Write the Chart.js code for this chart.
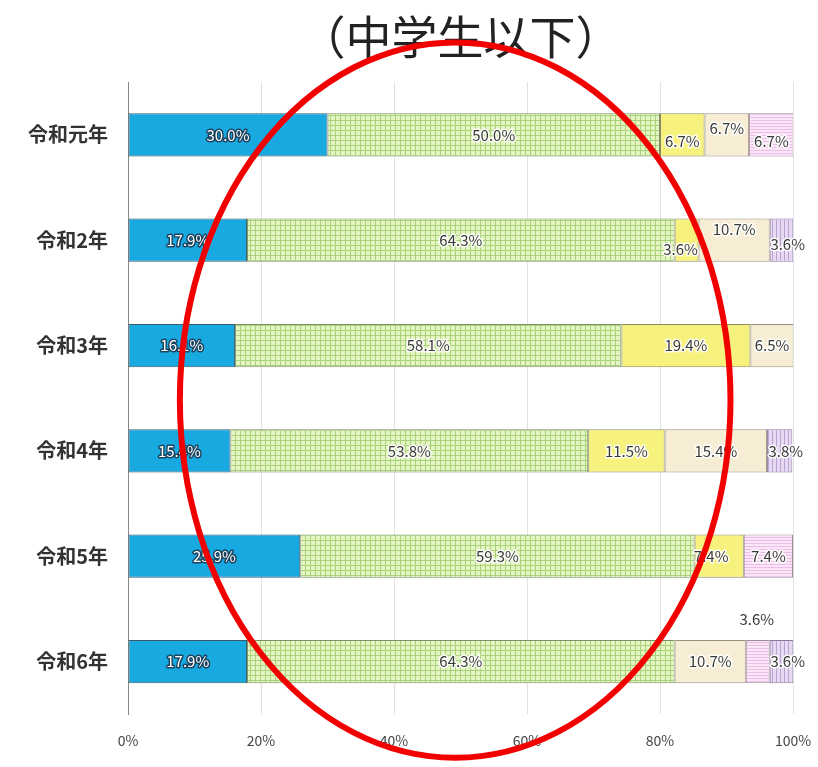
<!DOCTYPE html>
<html>
<head>
<meta charset="utf-8">
<script src="https://cdn.jsdelivr.net/npm/chart.js@4"></script>
<style>
html,body{margin:0;padding:0;background:#fff;}
#wrap{width:818px;height:767px;}
</style>
</head>
<body>
<div id="wrap"><canvas id="c" width="818" height="767"></canvas></div>
<script>
const categories = ['令和元年','令和2年','令和3年','令和4年','令和5年','令和6年'];
const seriesNames = ['区分1','区分2','区分3','区分4','区分5','区分6'];
const s1 = [30.0, 17.9, 16.1, 15.4, 25.9, 17.9];
const s2 = [50.0, 64.3, 58.1, 53.8, 59.3, 64.3];
const s3 = [6.7, 3.6, 19.4, 11.5, 7.4, null];
const s4 = [6.7, 10.7, 6.5, 15.4, null, 10.7];
const s5 = [6.7, null, null, null, 7.4, 3.6];
const s6 = [null, 3.6, null, 3.8, null, 3.6];
const xTicks = [0, 20, 40, 60, 80, 100];
const titleText = '（中学生以下）';

const FONT = '"Noto Sans CJK JP", "Noto Sans", sans-serif';

function makePattern(w, h, draw) {
  const c = document.createElement('canvas');
  c.width = w; c.height = h;
  const g = c.getContext('2d');
  draw(g, w, h);
  return document.getElementById('c').getContext('2d').createPattern(c, 'repeat');
}
const greenGrid = makePattern(5, 5, (g, w, h) => {
  g.fillStyle = '#e4f5c2'; g.fillRect(0, 0, w, h);
  g.fillStyle = '#a8d27c'; g.fillRect(0, 0, 1, h); g.fillRect(0, 0, w, 1);
});
const pinkStripes = makePattern(4, 3, (g, w, h) => {
  g.fillStyle = '#fbe6f8'; g.fillRect(0, 0, w, h);
  g.fillStyle = '#ecbde8'; g.fillRect(0, 0, w, 1);
});
const lavStripes = makePattern(4, 4, (g, w, h) => {
  g.fillStyle = '#e6d9f1'; g.fillRect(0, 0, w, h);
  g.fillStyle = '#b9a3d3'; g.fillRect(0, 0, 1, h);
});

const fills = ['#19a9e1', greenGrid, '#f7f17e', '#f6edd4', pinkStripes, lavStripes];
const borders = ['#3a5a6a', '#7d8f66', '#8a8a60', '#9a9080', '#9a8a9a', '#8a7a9a'];
const allSeries = [s1, s2, s3, s4, s5, s6];

// label offsets [dx, dy] per series per category (style only)
const labelOffsets = [
  [[0,0],[0,0],[0,0],[0,0],[0,0],[0,0]],
  [[0,0],[0,0],[0,0],[0,0],[0,0],[0,0]],
  [[0,6],[-6,9],[0,0],[0,0],[-8,0],[0,0]],
  [[0,-7],[0,-11],[0,0],[0,0],[0,0],[0,0]],
  [[0,6],[0,0],[0,0],[0,0],[0,0],[-1,-42]],
  [[0,0],[6,4],[0,0],[6,0],[0,0],[6,0]]
];

const datasets = allSeries.map((d, i) => ({
  label: seriesNames[i],
  data: d,
  backgroundColor: fills[i],
  borderColor: borders[i],
  borderWidth: 1,
  borderSkipped: false,
  categoryPercentage: 1.0,
  barPercentage: 0.41
}));

const labelPlugin = {
  id: 'segLabels',
  afterDatasetsDraw(chart) {
    const ctx = chart.ctx;
    ctx.save();
    ctx.font = '15px ' + FONT;
    ctx.textAlign = 'center';
    ctx.textBaseline = 'middle';
    ctx.lineJoin = 'round';
    chart.data.datasets.forEach((ds, di) => {
      const meta = chart.getDatasetMeta(di);
      meta.data.forEach((el, idx) => {
        const v = ds.data[idx];
        if (v === null || v === undefined) return;
        const x0 = Math.min(el.x, el.base), x1 = Math.max(el.x, el.base);
        const off = labelOffsets[di][idx];
        const cx = (x0 + x1) / 2 + off[0];
        const cy = el.y + off[1];
        const txt = v.toFixed(1) + '%';
        ctx.lineWidth = 3;
        if (di === 0) {
          ctx.strokeStyle = 'rgba(30,50,70,0.85)';
          ctx.strokeText(txt, cx, cy);
          ctx.fillStyle = '#ffffff';
        } else {
          ctx.strokeStyle = 'rgba(255,255,255,0.9)';
          ctx.strokeText(txt, cx, cy);
          ctx.fillStyle = '#3a3a3a';
        }
        ctx.fillText(txt, cx, cy);
      });
    });
    ctx.restore();
  }
};

const ellipsePlugin = {
  id: 'redEllipse',
  afterDraw(chart) {
    const a = chart.chartArea;
    const xs = chart.scales.x;
    const cx = xs.getPixelForValue(49.2);
    const rx = xs.getPixelForValue(41.4) - xs.getPixelForValue(0);
    const h = a.bottom - a.top;
    const cy = a.top + h * 0.503;
    const ry = h * 0.566;
    const ctx = chart.ctx;
    ctx.save();
    ctx.beginPath();
    ctx.ellipse(cx, cy, rx, ry, 0, 0, Math.PI * 2);
    ctx.strokeStyle = '#f20000';
    ctx.lineWidth = 6;
    ctx.stroke();
    ctx.restore();
  }
};

new Chart(document.getElementById('c'), {
  type: 'bar',
  data: { labels: categories, datasets },
  plugins: [labelPlugin, ellipsePlugin],
  options: {
    indexAxis: 'y',
    responsive: false,
    animation: false,
    layout: { padding: { left: 10, right: 25, top: 0, bottom: 0 } },
    plugins: {
      legend: { display: false },
      tooltip: { enabled: false },
      title: {
        display: true,
        text: titleText,
        fullSize: false,
        color: '#222',
        font: { family: FONT, size: 46, weight: 'normal' },
        padding: { top: 9, bottom: 18 }
      }
    },
    scales: {
      x: {
        stacked: true,
        min: 0, max: 100,
        afterBuildTicks(scale) { scale.ticks = xTicks.map(v => ({ value: v })); },
        afterFit(scale) { scale.paddingRight = 0; scale.paddingLeft = 0; },
        ticks: {
          callback: v => v + '%',
          color: '#444',
          font: { family: FONT, size: 14 },
          padding: 18
        },
        grid: { color: '#e2e2e2', drawTicks: false, lineWidth: 1 },
        border: { display: false }
      },
      y: {
        stacked: true,
        afterFit(scale) { scale.width = 118; },
        ticks: {
          color: '#333',
          font: { family: FONT, size: 20, weight: 'bold' },
          padding: 12
        },
        grid: { display: false },
        border: { display: true, color: '#888', width: 1 }
      }
    }
  }
});
</script>
</body>
</html>
